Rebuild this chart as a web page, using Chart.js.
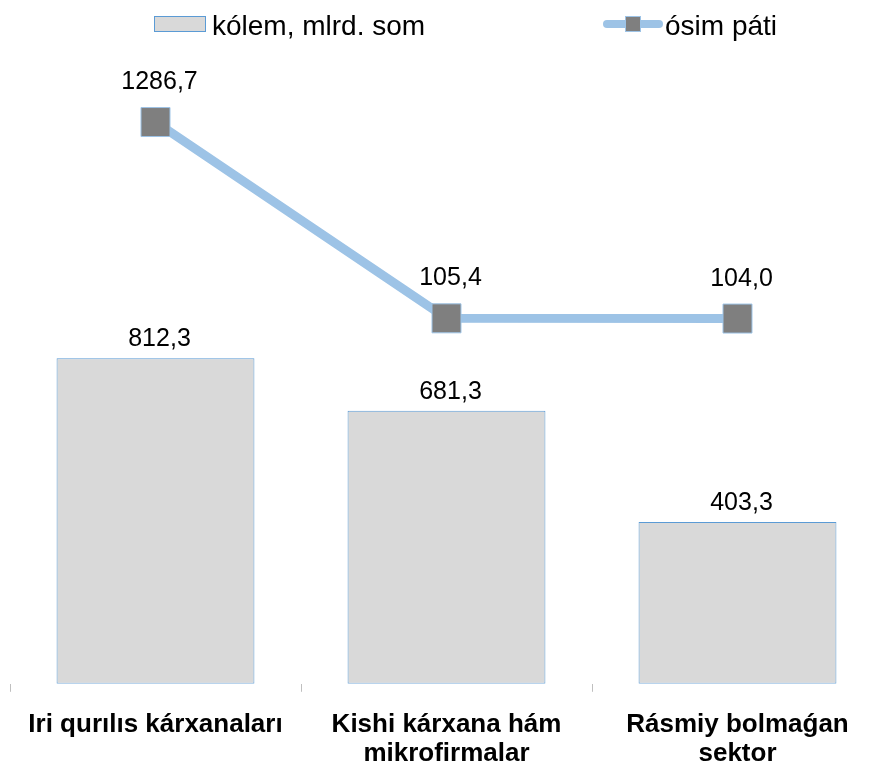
<!DOCTYPE html>
<html>
<head>
<meta charset="utf-8">
<script src="https://cdn.jsdelivr.net/npm/chart.js@4"></script>
<style>
    html, body { margin: 0; padding: 0; background: #fff; overflow: hidden; }
    #wrap { width: 893px; height: 801px; position: relative; }
</style>
</head>
<body>
<div id="wrap"><canvas id="mychart"></canvas></div>
<script>
let categories = [['Iri qurılıs kárxanaları'], ['Kishi kárxana hám', 'mikrofirmalar'], ['Rásmiy bolmaǵan', 'sektor']]
let volume = [812.3, 681.3, 403.3]
let growth = [1286.7, 105.4, 104.0]
let volume_label = 'kólem, mlrd. som'
let growth_label = 'ósim páti'

const font_family = '"Liberation Sans", Arial, sans-serif'

// 1286,7 style numbers
function fmt(v) {
    return v.toFixed(1).replace('.', ',')
}

// value labels above bars and points
const valueLabels = {
    id: 'valueLabels',
    afterDatasetsDraw(chart) {
        let ctx = chart.ctx
        ctx.save()
        ctx.font = '25px ' + font_family
        ctx.fillStyle = '#000'
        ctx.textAlign = 'center'
        ctx.textBaseline = 'alphabetic'
        chart.data.datasets.forEach(function(ds, i) {
            let meta = chart.getDatasetMeta(i)
            meta.data.forEach(function(el, j) {
                let gap = ds.type === 'line' ? 33 : 12
                ctx.fillText(fmt(ds.data[j]), el.x + 4, el.y - gap)
            })
        })
        ctx.restore()
    }
}

// legend drawn by hand so the two items sit far apart like the original
const topLegend = {
    id: 'topLegend',
    afterDraw(chart) {
        let ctx = chart.ctx
        ctx.save()
        ctx.fillStyle = '#d9d9d9'
        ctx.fillRect(154, 16, 52, 16)
        ctx.strokeStyle = '#5b9bd5'
        ctx.lineWidth = 1
        ctx.strokeRect(154.5, 16.5, 51, 15)

        ctx.strokeStyle = '#9dc3e6'
        ctx.lineWidth = 8
        ctx.lineCap = 'round'
        ctx.beginPath()
        ctx.moveTo(607, 24)
        ctx.lineTo(659, 24)
        ctx.stroke()
        ctx.fillStyle = '#7f7f7f'
        ctx.fillRect(625, 16, 16, 16)
        ctx.lineWidth = 1
        ctx.strokeRect(625.5, 16.5, 15, 15)

        ctx.fillStyle = '#000'
        ctx.font = '28px ' + font_family
        ctx.textBaseline = 'alphabetic'
        ctx.textAlign = 'left'
        ctx.fillText(volume_label, 212, 35)
        ctx.fillText(growth_label, 665, 35)
        ctx.restore()
    }
}

function fun_chart() {
    let ctx = document.getElementById('mychart').getContext('2d')
    new Chart(ctx, {
        type: 'bar',
        data: {
            labels: categories,
            datasets: [{
                type: 'line',
                label: growth_label,
                data: growth,
                yAxisID: 'y1',
                borderColor: '#9dc3e6',
                borderWidth: 9,
                tension: 0,
                pointStyle: 'rect',
                pointRadius: 20.5,
                pointBackgroundColor: '#7f7f7f',
                pointBorderColor: '#9dc3e6',
                pointBorderWidth: 1,
                order: 0
            }, {
                type: 'bar',
                label: volume_label,
                data: volume,
                yAxisID: 'y',
                backgroundColor: '#d9d9d9',
                borderColor: '#5b9bd5',
                borderWidth: 1,
                borderSkipped: false,
                categoryPercentage: 1,
                barPercentage: 0.68,
                order: 1
            }]
        },
        options: {
            responsive: true,
            maintainAspectRatio: false,
            animation: false,
            layout: { autoPadding: false, padding: { top: 60, left: 10, right: 10, bottom: 14 } },
            plugins: {
                legend: { display: false },
                tooltip: { enabled: false }
            },
            scales: {
                x: {
                    grid: {
                        display: true,
                        drawOnChartArea: false,
                        drawTicks: true,
                        tickLength: 8,
                        color: '#bfbfbf',
                        offset: true
                    },
                    border: { display: false },
                    ticks: {
                        color: '#000',
                        padding: 19,
                        font: { family: font_family, size: 26, weight: 'bold', lineHeight: 1.1 }
                    }
                },
                y: { display: false, min: 0, max: 1556 },
                y1: { display: false, min: -2094, max: 1660 }
            }
        },
        plugins: [valueLabels, topLegend]
    })
}

fun_chart()
</script>
</body>
</html>
